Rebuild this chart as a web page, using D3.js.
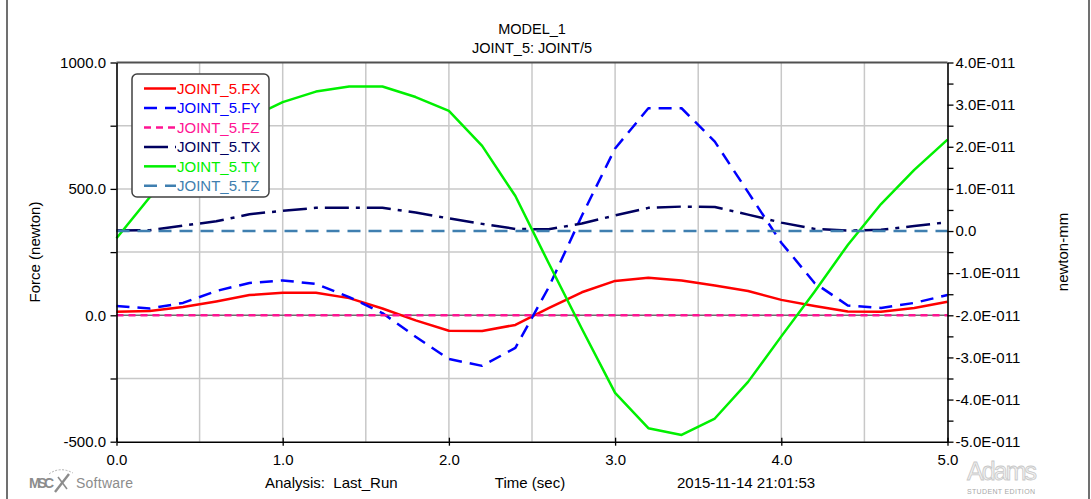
<!DOCTYPE html>
<html>
<head>
<meta charset="utf-8">
<script src="https://cdn.jsdelivr.net/npm/d3@7/dist/d3.min.js"></script>
<style>
  html, body { margin: 0; padding: 0; background: #fff; }
  svg { display: block; font-family: "Liberation Sans", Arial, sans-serif; }
  text { white-space: pre; }
</style>
</head>
<body>
<svg id="chart" width="1091" height="499"></svg>
<script>
// Simulation output times (sec)
const times = [0.0, 0.2, 0.4, 0.6, 0.8, 1.0, 1.2, 1.4, 1.6, 1.8, 2.0, 2.2, 2.4,
               2.6, 2.8, 3.0, 3.2, 3.4, 3.6, 3.8, 4.0, 4.2, 4.4, 4.6, 4.8, 5.0];

// Joint forces (newton), left axis
const fx = [14, 17, 33, 55, 80, 89, 89, 68, 27, -20, -61, -62, -38,
            28, 91, 136, 149, 138, 118, 96, 61, 37, 15, 14, 29, 54];
const fy = [37, 27, 49, 96, 128, 138, 124, 72, 9, -85, -173, -200, -129,
            110, 394, 660, 819, 819, 687, 487, 287, 128, 39, 29, 49, 80];
const fz = [0, 0, 0, 0, 0, 0, 0, 0, 0, 0, 0, 0, 0,
            0, 0, 0, 0, 0, 0, 0, 0, 0, 0, 0, 0, 0];

// Joint torques (units of 1E-011 newton-mm), right axis
const tx = [0.01, 0.02, 0.13, 0.23, 0.40, 0.48, 0.55, 0.55, 0.55, 0.44, 0.30, 0.17, 0.05,
            0.04, 0.18, 0.37, 0.55, 0.58, 0.57, 0.39, 0.20, 0.05, 0.01, 0.03, 0.12, 0.21];
const ty = [-0.17, 0.80, 1.57, 2.21, 2.68, 3.06, 3.31, 3.43, 3.43, 3.18, 2.85, 2.02, 0.83,
            -0.76, -2.32, -3.84, -4.68, -4.84, -4.45, -3.58, -2.50, -1.44, -0.33, 0.64, 1.45, 2.17];
const tz = [0, 0, 0, 0, 0, 0, 0, 0, 0, 0, 0, 0, 0,
            0, 0, 0, 0, 0, 0, 0, 0, 0, 0, 0, 0, 0];

// Tick values
const xTicks = [0, 1, 2, 3, 4, 5];
const xGrid = [0.5, 1, 1.5, 2, 2.5, 3, 3.5, 4, 4.5];
const leftTicks = [-500, -250, 0, 250, 500, 750, 1000];
const leftLabeled = [-500, 0, 500, 1000];
const rightTicks = [-5, -4.5, -4, -3.5, -3, -2.5, -2, -1.5, -1, -0.5, 0,
                    0.5, 1, 1.5, 2, 2.5, 3, 3.5, 4];

const series = [
  { name: "JOINT_5.FX", values: fx, axis: "left",  color: "#ff0000", dash: null },
  { name: "JOINT_5.FY", values: fy, axis: "left",  color: "#0000ff", dash: "13,8" },
  { name: "JOINT_5.FZ", values: fz, axis: "left",  color: "#ff1493", dash: "7,5" },
  { name: "JOINT_5.TX", values: tx, axis: "right", color: "#000060", dash: "24,7,4,7" },
  { name: "JOINT_5.TY", values: ty, axis: "right", color: "#00f000", dash: null },
  { name: "JOINT_5.TZ", values: tz, axis: "right", color: "#3f7fb0", dash: "13,8" }
];

const svg = d3.select("#chart");
const L = 116.5, R = 947.5, T = 62.5, B = 441.7;

const x = d3.scaleLinear().domain([0, 5]).range([L, R]);
const yL = d3.scaleLinear().domain([-500, 1000]).range([B, T]);
const yR = d3.scaleLinear().domain([-5, 4]).range([B, T]);

// window frame
svg.append("line").attr("x1", 7).attr("x2", 7).attr("y1", 0).attr("y2", 499)
  .attr("stroke", "#707070").attr("stroke-width", 2);
svg.append("line").attr("x1", 1089).attr("x2", 1089).attr("y1", 0).attr("y2", 499)
  .attr("stroke", "#707070").attr("stroke-width", 2);

// grid
const grid = svg.append("g");
grid.selectAll("line.v").data(xGrid).join("line")
  .attr("x1", d => x(d)).attr("x2", d => x(d)).attr("y1", T).attr("y2", B)
  .attr("stroke", "#c8c8c8").attr("stroke-width", 1.5);
grid.selectAll("line.h").data(leftTicks.filter(d => d > -500 && d < 1000)).join("line")
  .attr("x1", L).attr("x2", R).attr("y1", d => yL(d)).attr("y2", d => yL(d))
  .attr("stroke", d => d === 0 ? "#6e6e6e" : "#c8c8c8").attr("stroke-width", 1.5);

// top border of plot
svg.append("line").attr("x1", L).attr("x2", R).attr("y1", T).attr("y2", T)
  .attr("stroke", "#505050").attr("stroke-width", 2);

// curves
const lineFor = s => d3.line()
  .x((d, i) => x(times[i]))
  .y(d => (s.axis === "left" ? yL(d) : yR(d)));

const curves = svg.append("g").attr("fill", "none");
series.forEach(s => {
  curves.append("path")
    .datum(s.values)
    .attr("d", lineFor(s))
    .attr("stroke", s.color)
    .attr("stroke-width", 2.5)
    .attr("stroke-dasharray", s.dash)
    .attr("stroke-linejoin", "round");
});

// axes
const fmtLeft = d => leftLabeled.includes(d) ? d.toFixed(1) : "";
const fmtRight = d => Number.isInteger(d) ? (d === 0 ? "0.0" : d.toFixed(1) + "E-011") : "";

const axL = svg.append("g").attr("transform", `translate(${L},0)`)
  .call(d3.axisLeft(yL).tickValues(leftTicks).tickFormat(fmtLeft).tickSize(6).tickSizeOuter(0).tickPadding(4.5));
const axR = svg.append("g").attr("transform", `translate(${R},0)`)
  .call(d3.axisRight(yR).tickValues(rightTicks).tickFormat(fmtRight).tickSize(6).tickSizeOuter(0).tickPadding(2));
const axB = svg.append("g").attr("transform", `translate(0,${B})`)
  .call(d3.axisBottom(x).tickValues(xTicks).tickFormat(d => d.toFixed(1)).tickSize(4).tickSizeOuter(0).tickPadding(9));
axB.selectAll(".tick line").attr("y1", -4);

[axL, axR, axB].forEach(a => {
  a.selectAll("text").attr("font-size", 15).attr("fill", "#000")
    .attr("font-family", '"Liberation Sans", Arial, sans-serif');
  a.selectAll("line").attr("stroke", "#000").attr("stroke-width", 1.3);
  a.select(".domain").attr("stroke", "#000").attr("stroke-width", 1.6);
});

// titles
const text = (t, px, py, opts = {}) => svg.append("text")
  .attr("x", px).attr("y", py).text(t)
  .attr("font-size", opts.size || 15)
  .attr("text-anchor", opts.anchor || "start")
  .attr("fill", opts.fill || "#000")
  .attr("transform", opts.rotate ? `rotate(-90,${px},${py})` : null);

const cx = (L + R) / 2;
text("MODEL_1", cx, 34, { anchor: "middle", size: 14.5 });
text("JOINT_5: JOINT/5", cx, 53, { anchor: "middle", size: 14.5 });
text("Force (newton)", 40, 252, { anchor: "middle", rotate: true });
text("newton-mm", 1068, 252, { anchor: "middle", rotate: true });
text("Analysis:  Last_Run", 265, 488);
text("Time (sec)", 530, 488, { anchor: "middle" });
text("2015-11-14 21:01:53", 677, 488);

// legend
const lg = svg.append("g");
lg.append("rect").attr("x", 132).attr("y", 74).attr("width", 137).attr("height", 123)
  .attr("rx", 5).attr("fill", "#fff").attr("stroke", "#404040").attr("stroke-width", 1.5);
const rowY = d3.scaleLinear().domain([0, 5]).range([88.5, 185.8]);
series.forEach((s, i) => {
  const yy = rowY(i);
  lg.append("line").attr("x1", 144).attr("x2", 176).attr("y1", yy).attr("y2", yy)
    .attr("stroke", s.color).attr("stroke-width", 2.5).attr("stroke-dasharray", s.dash);
  lg.append("text").attr("x", 177).attr("y", yy + 5.5).text(s.name)
    .attr("font-size", 15).attr("fill", s.color);
});

// MSC Software mark
const logo = svg.append("g").attr("fill", "#8c8c8c");
logo.append("text").attr("x", 29).attr("y", 488).text("MSC")
  .attr("font-size", 14).attr("font-weight", "bold").attr("textLength", 25);
logo.append("text").attr("x", 76).attr("y", 488).text("Software")
  .attr("font-size", 14).attr("textLength", 57);
logo.append("path").attr("d", "M55,492 L69,474").attr("stroke", "#8c8c8c").attr("stroke-width", 2.4).attr("fill", "none");
logo.append("path").attr("d", "M58,477 L67,489").attr("stroke", "#8c8c8c").attr("stroke-width", 1.6).attr("fill", "none");
logo.append("path").attr("d", "M49,474 Q60,466 73,473").attr("stroke", "#b0b0b0").attr("stroke-width", 1)
  .attr("stroke-dasharray", "2,1.5").attr("fill", "none");

// Adams Student Edition mark
svg.append("text").attr("x", 967).attr("y", 480).text("Adams")
  .attr("font-size", 25).attr("fill", "#f1f1f1").attr("stroke", "#c8c8c8").attr("stroke-width", 0.8)
  .attr("textLength", 70);
svg.append("text").attr("x", 967).attr("y", 494).text("STUDENT EDITION")
  .attr("font-size", 7).attr("fill", "#a8a8a8").attr("textLength", 68);
</script>
</body>
</html>
